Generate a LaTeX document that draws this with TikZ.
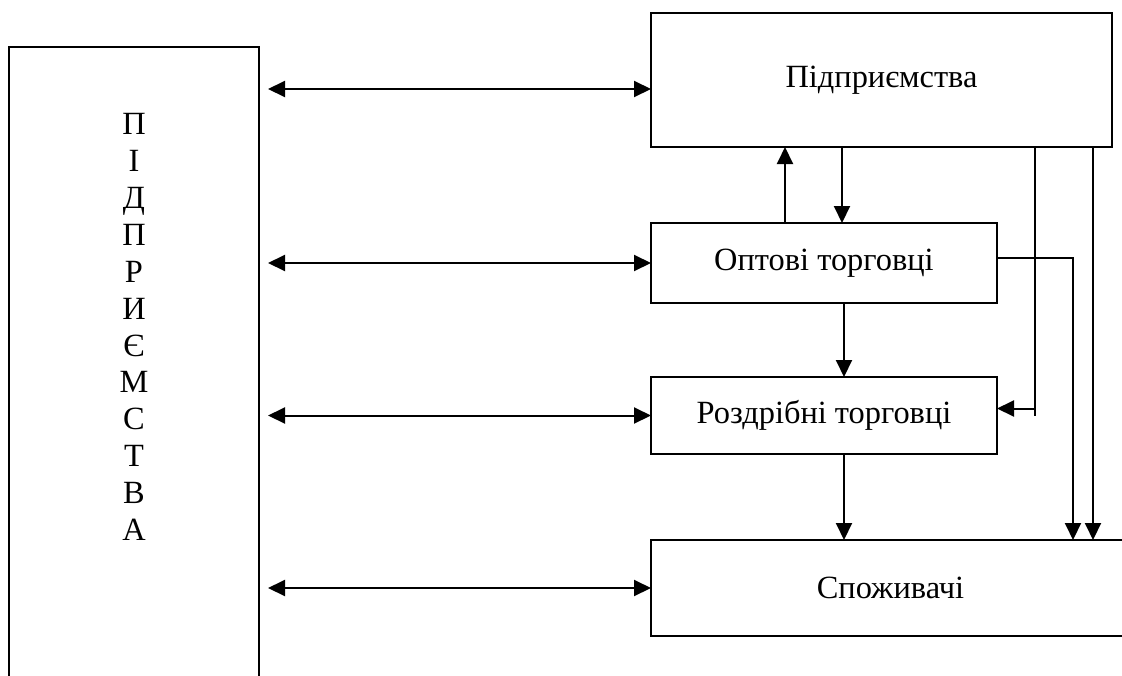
\documentclass[tikz,border=0pt]{standalone}
\usepackage{fontspec}
\setmainfont{Liberation Serif}
\usetikzlibrary{arrows.meta,positioning,calc}

\begin{document}
\begin{tikzpicture}[
    x=1pt, y=-1pt,
    >={Triangle[length=17pt,width=16pt]},
    line width=2pt,
    unit/.style={
        draw,
        anchor=north west,
        align=center,
        inner sep=0pt,
        outer sep=0pt,
        font=\fontsize{32.4}{37}\selectfont
    },
    flow/.style={->},
    dual/.style={<->, shorten <=9pt}
]
\useasboundingbox (0,0) rectangle (1122,675);
\clip (0,0) rectangle (1122,675);

\node[unit, minimum width=250pt, minimum height=700pt] (market) at (9,47) {};
\node[align=center, font=\fontsize{32.4}{36.9}\selectfont] (mtext) at (134,327)
    {П\\І\\Д\\П\\Р\\И\\Є\\М\\С\\Т\\В\\А};

\node[unit, minimum width=461pt, minimum height=134pt] (firms) at (651,13) {Підприємства};
\node[unit, minimum width=346pt, minimum height=80pt, below=76pt of firms.south west, anchor=north west] (wholesale) {Оптові торговці};
\node[unit, minimum width=346pt, minimum height=77pt, below=74pt of wholesale.south west, anchor=north west] (retail) {Роздрібні торговці};
\node[unit, minimum width=479pt, minimum height=96pt, below=86pt of retail.south west, anchor=north west] (consumers) {Споживачі};

% links to the left block
\coordinate (f1) at ([yshift=-9pt]firms.west);
\draw[dual] (market.east |- f1) -- (f1);
\draw[dual] (market.east |- wholesale.west) -- (wholesale.west);
\draw[dual] (market.east |- retail.west) -- (retail.west);
\draw[dual] (market.east |- consumers.west) -- (consumers.west);

% vertical chain
\coordinate (up) at ([xshift=-39pt]wholesale.north);
\coordinate (down) at ([xshift=18pt]wholesale.north);
\coordinate (mid) at ([xshift=20pt]wholesale.south);
\draw[flow] (up) -- (up |- firms.south);
\draw[flow] (down |- firms.south) -- (down);
\draw[flow] (mid) -- (mid |- retail.north);
\draw[flow] (mid |- retail.south) -- (mid |- consumers.north);

% side lines on the right
\coordinate (tapA) at ([xshift=-77pt]firms.south east);
\coordinate (tapB) at ([xshift=-19pt]firms.south east);
\coordinate (tapC) at ([xshift=76pt]wholesale.east);
\coordinate (w1) at ([yshift=5pt]wholesale.east);
\coordinate (r1) at ([yshift=7pt]retail.east);
\draw (tapA) -- (tapA |- retail.east);
\draw[flow] (tapA |- r1) -- (r1);
\draw[flow] (w1) -| (tapC |- consumers.north);
\draw[flow] (tapB) -- (tapB |- consumers.north);

\end{tikzpicture}
\end{document}
